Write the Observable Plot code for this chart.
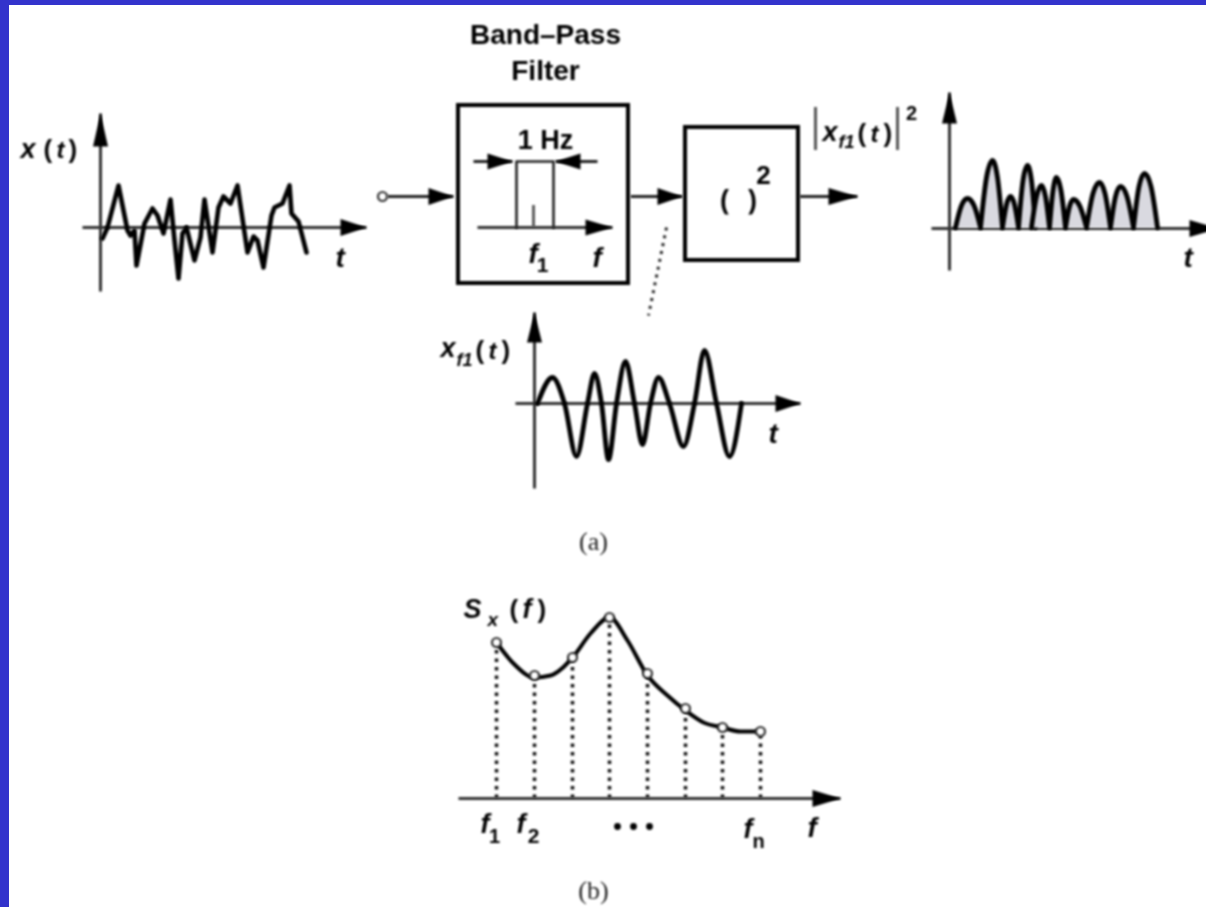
<!DOCTYPE html>
<html>
<head>
<meta charset="utf-8">
<script src="https://cdn.jsdelivr.net/npm/d3@7"></script>
<script src="https://cdn.jsdelivr.net/npm/@observablehq/plot@0.6"></script>
<style>
html,body{margin:0;padding:0;background:#fff;overflow:hidden}
svg{display:block}
svg > g{filter:blur(1px)}
svg > g:last-of-type{filter:none}
</style>
</head>
<body>
<div id="chart"></div>
<script>
const frame = [{x1:0,x2:9,y1:0,y2:907},{x1:0,x2:1206,y1:0,y2:5}];

const inputNoise = [[102,238],[107,227],[118,185],[127,230],[130,235],[134,230],[136,265],[144,223],[152,208],[157,215],[163,233],[170,199],[173,230],[178,278],[182,233],[186,227],[194,260],[200,237],[204,199],[212,252],[218,207],[223,196],[230,203],[237,185],[247,252],[253,236],[257,240],[263,267],[271,215],[274,207],[282,203],[289,185],[291,213],[298,221],[306,252]];

const filtered = [[537,403],[552,377],[564,403],[576,456],[587,403],[594,373],[601,403],[608,459],[616,403],[625,361],[634,403],[642,444],[650,403],[658,377],[669,403],[683,446],[694,403],[704,350],[716,403],[729,456],[741,403]];

const humps = [
  [[955,227],[961,205],[967,198],[973.5,205],[980,227]],
  [[980,227],[986,177],[992,160],[997,177],[1002,227]],
  [[1002,227],[1006,204],[1010,196],[1014,204],[1018,227]],
  [[1018,227],[1022.5,180],[1027,165],[1031,180],[1035,227]],
  [[1031,227],[1036,196],[1041,185],[1045,196],[1049,227]],
  [[1049,227],[1052.5,190],[1056,177],[1060.5,190],[1065,227]],
  [[1065,227],[1069,206],[1073,199],[1079.5,206],[1086,227]],
  [[1086,227],[1092.5,193],[1099,182],[1104.5,193],[1110,227]],
  [[1110,227],[1115,196],[1120,186],[1126.5,196],[1133,227]],
  [[1133,227],[1138.5,186],[1144,173],[1150.5,186],[1157,227]]
];

const spectrumCurve = [[496,642],[513,663],[534,677],[550,675],[572,657],[590,633],[609,617],[627,640],[647,675],[667,695],[685,710],[703,722],[722,727],[740,731],[760,731]];
const spectrumX = [496,534,572,609,647,685,722,760];
const spectrumY = [642,675,657,617,673,708,727,731];
const spectrumAxisY = 798;
const ellipsisX = [617,633,649];
const ellipsisY = 826;

// [x1, y1, tipX, tipY, headLength, halfWidth]
const grayArrows = [
  [100,291,100,113,33,7.5],[82,227,366,227,26,8.5],
  [534,488,534,312,30,7.5],[515,403,800,403,25,8.5],
  [949,270,949,92,31,7.5],[931,228,1218,228,29,8.5],
  [477,227,612,227,27,8],[458,798,840,798,28,8.5]
];
const blackArrows = [
  [387,196,453,196,25,8.5],[630,196,682,196,25,8.5],[799,196,857,196,29,8.5],
  [473,161,512,161,25,8],[597,161,555,161,25,8]
];
const boxes = [{x1:458,x2:628,y1:105,y2:283},{x1:685,x2:798,y1:127,y2:260}];
const passband = [[516,227],[516,161],[553,161],[553,227]];
const centerTick = [{x:533,y1:205,y2:227}];
const bars = [{x:815,y1:107,y2:150},{x:897,y1:107,y2:150}];
const inputNode = [{x:382,y:196}];
const leader = [{x1:666,y1:227,x2:648,y2:315}];

const boldLabels = [
  ["Band–Pass",545,43,28],["Filter",545,79,28],["1 Hz",545,148,27],
  ["(",724,208,27],[")",752,208,27],["2",763,183,26],["2",911,119,20],
  ["1",542,271,21],["1",494,842,20],["2",533,842,21],["n",758,847,20]
];
const italicLabels = [
  ["x",20,157,27],["t",56,157,24],
  ["t",335,266,28],["f",528,262,28],["f",592,266,28],
  ["x",822,140,27],["f1",838,147,18],["t",870,141,24],
  ["x",440,356,27],["f1",456,365,18],["t",488,358,24],
  ["t",768,442,28],["t",1183,266,28],
  ["S",463,617,27],["x",487,625,19],["f",522,617,27],
  ["f",480,832,27],["f",516,832,27],["f",743,837,27],["f",807,836,28]
];
const parenLabels = [
  ["(",43,157,26],[")",68,157,26],
  ["(",857,141,26],[")",883,141,26],
  ["(",475,358,26],[")",501,358,26],
  ["(",509,617,26],[")",537,617,26]
];
const serifLabels = [["(a)",593,549,26],["(b)",593,898,26]];

const xy = p => ({x:p[0],y:p[1]});
const triangles = list => list.flatMap((a,i) => {
  const [x1,y1,x2,y2,len,hw] = a;
  const d = Math.hypot(x2-x1,y2-y1), ux=(x2-x1)/d, uy=(y2-y1)/d;
  const bx=x2-ux*len, by=y2-uy*len;
  return [{i,x:x2,y:y2},{i,x:bx-uy*hw,y:by+ux*hw},{i,x:bx+uy*hw,y:by-ux*hw},{i,x:x2,y:y2}];
});
const shaftOpts = {x1:d=>d[0],y1:d=>d[1],x2:d=>d[2],y2:d=>d[3]};
const labelOpts = (extra) => ({text:d=>d[0],x:d=>d[1],y:d=>d[2],fontSize:d=>d[3],lineAnchor:"bottom",fill:"#000",...extra});
const humpRows = humps.flatMap((h,i)=>h.map(p=>({i,x:p[0],y:p[1]})));

const plot = Plot.plot({
  width:1206,height:907,margin:0,
  x:{domain:[0,1206],axis:null},
  y:{domain:[907,0],axis:null},
  style:{background:"#fff"},
  marks:[
    // dotted stems and leader
    Plot.ruleX(spectrumX.map((x,i)=>({x,y:spectrumY[i]})),{x:"x",y1:()=>spectrumAxisY,y2:"y",stroke:"#111",strokeWidth:3.5,strokeDasharray:"3.5 5"}),
    Plot.link(leader,{x1:"x1",y1:"y1",x2:"x2",y2:"y2",stroke:"#222",strokeWidth:3,strokeDasharray:"3 5"}),
    // boxes
    Plot.rect(boxes,{x1:"x1",x2:"x2",y1:"y1",y2:"y2",fill:"none",stroke:"#000",strokeWidth:4}),
    // axes
    Plot.link(grayArrows,{...shaftOpts,stroke:"#333",strokeWidth:3}),
    Plot.line(triangles(grayArrows),{x:"x",y:"y",z:"i",fill:"#000",stroke:"none"}),
    Plot.link(blackArrows,{...shaftOpts,stroke:"#222",strokeWidth:3}),
    Plot.line(triangles(blackArrows),{x:"x",y:"y",z:"i",fill:"#000",stroke:"none"}),
    Plot.dot(inputNode,{x:"x",y:"y",r:4.5,fill:"#fff",stroke:"#333",strokeWidth:2.2}),
    // passband inside the filter
    Plot.line(passband.map(xy),{x:"x",y:"y",stroke:"#222",strokeWidth:2.6}),
    Plot.ruleX(centerTick,{x:"x",y1:"y1",y2:"y2",stroke:"#444",strokeWidth:2.6}),
    Plot.ruleX(bars,{x:"x",y1:"y1",y2:"y2",stroke:"#555",strokeWidth:3}),
    // waveforms
    Plot.line(inputNoise.map(xy),{x:"x",y:"y",stroke:"#000",strokeWidth:4.6,strokeLinejoin:"round"}),
    Plot.line(filtered.map(xy),{x:"x",y:"y",stroke:"#000",strokeWidth:4.8,curve:"monotone-x"}),
    Plot.line(humpRows,{x:"x",y:"y",z:"i",fill:"#d9d9e0",stroke:"#000",strokeWidth:4.8,curve:"monotone-x"}),
    // spectrum
    Plot.line(spectrumCurve.map(xy),{x:"x",y:"y",stroke:"#000",strokeWidth:4,curve:"monotone-x"}),
    Plot.dot(spectrumX.map((x,i)=>({x,y:spectrumY[i]})),{x:"x",y:"y",r:4.5,fill:"#fff",stroke:"#333",strokeWidth:2.2}),
    Plot.dot(ellipsisX,{x:d=>d,y:()=>ellipsisY,r:3.4,fill:"#000",stroke:"none"}),
    // text
    Plot.text(boldLabels,labelOpts({textAnchor:"middle",fontFamily:"Liberation Sans",fontWeight:"bold"})),
    Plot.text(italicLabels,labelOpts({textAnchor:"start",fontFamily:"Liberation Sans",fontWeight:"bold",fontStyle:"italic"})),
    Plot.text(parenLabels,labelOpts({textAnchor:"start",fontFamily:"Liberation Sans",fontWeight:"bold"})),
    Plot.text(serifLabels,labelOpts({textAnchor:"middle",fontFamily:"Liberation Serif",fill:"#222"})),
    // blue frame
    Plot.rect(frame,{x1:"x1",x2:"x2",y1:"y1",y2:"y2",fill:"#3333cc"})
  ]
});
document.getElementById("chart").append(plot);
</script>
</body>
</html>
